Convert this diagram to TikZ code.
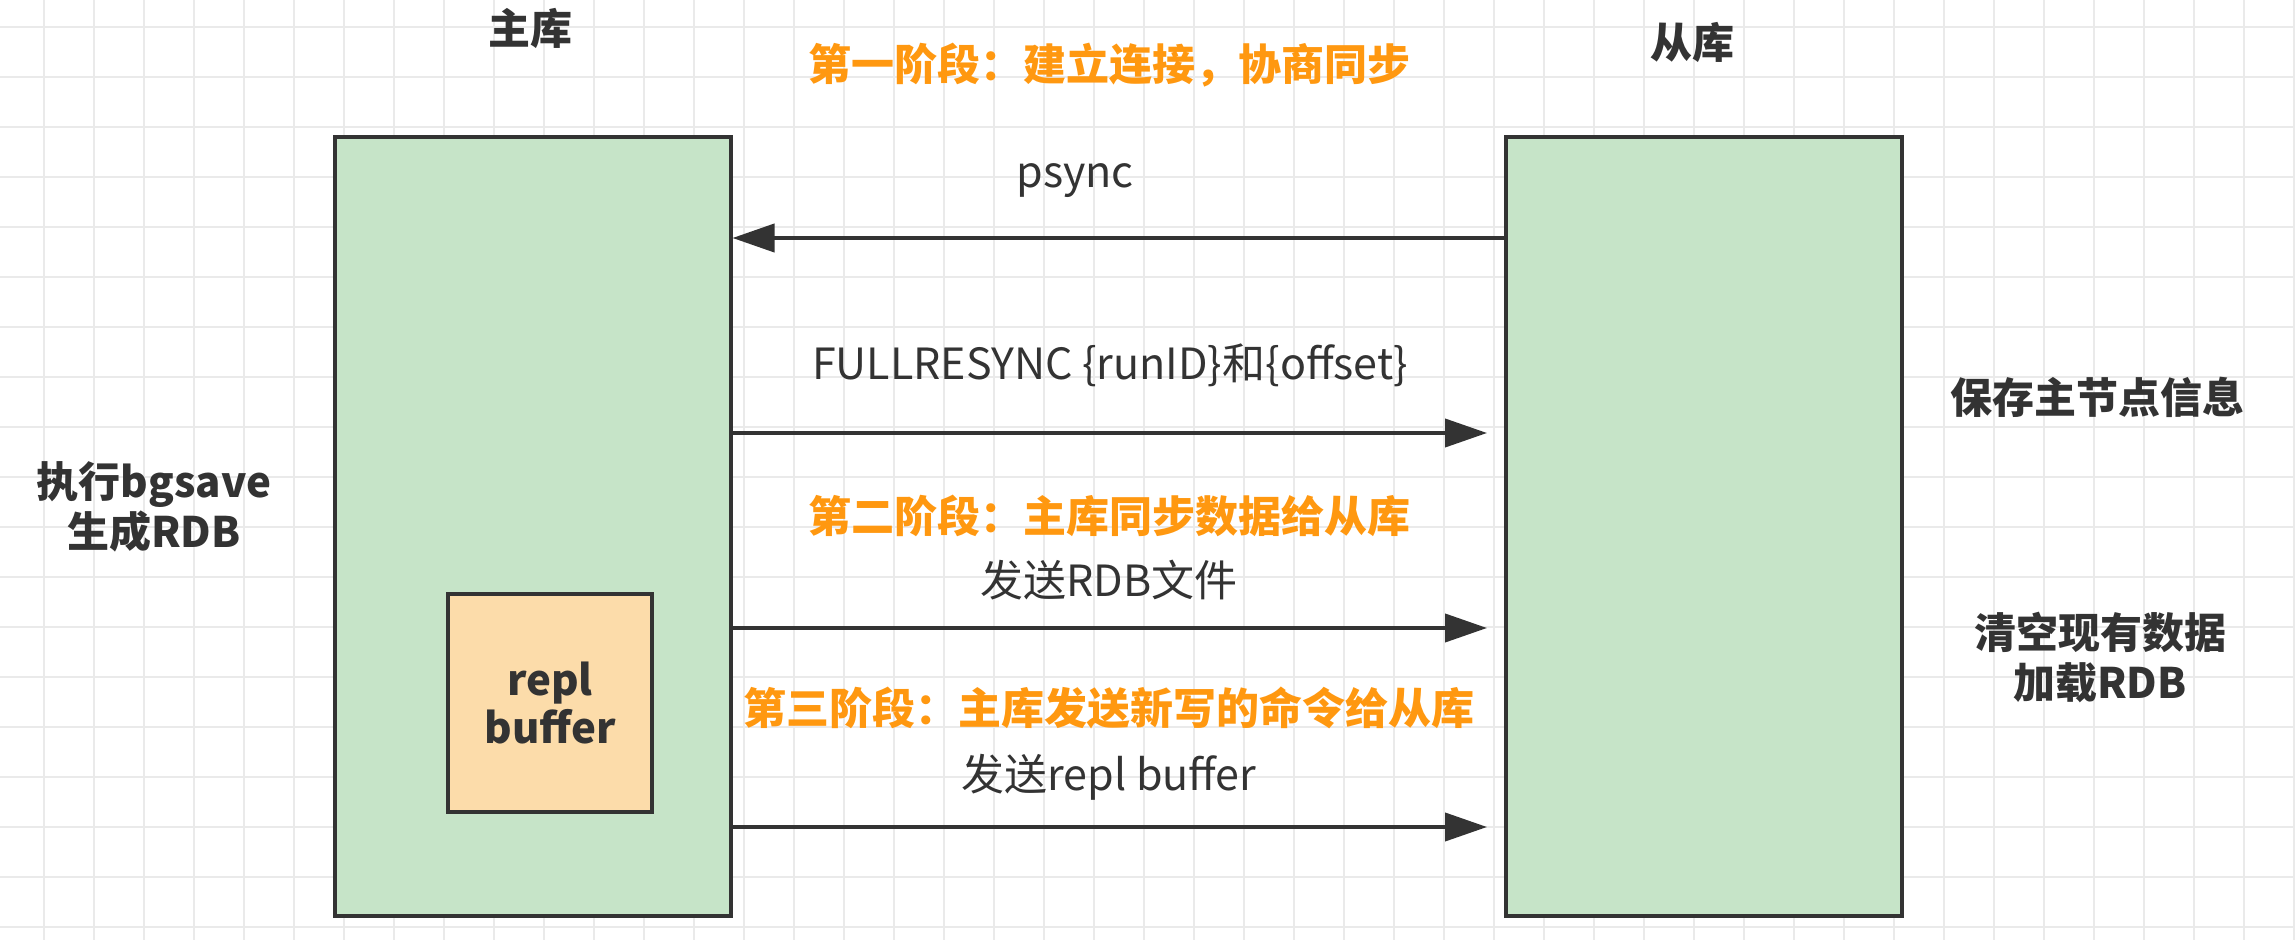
\documentclass[tikz,border=0pt]{standalone}
\usepackage{fontspec}
\setmainfont{Noto Sans CJK SC}
\usepackage{tikz}
\usetikzlibrary{arrows.meta}
\definecolor{boxgreen}{RGB}{198,228,200}
\definecolor{bufferorange}{RGB}{252,220,170}
\definecolor{stageorange}{RGB}{255,152,16}
\definecolor{ink}{RGB}{51,51,51}
\definecolor{gridgray}{RGB}{234,234,234}
\tikzset{
  gridline/.style={gridgray, line width=0.6pt},
  db/.style={draw=ink, line width=2pt, fill=boxgreen, inner sep=0pt,
    minimum width=198pt, minimum height=389pt},
  bufferbox/.style={draw=ink, line width=2pt, fill=bufferorange, inner sep=0pt,
    minimum width=102pt, minimum height=109pt, align=center, text=ink,
    font=\bfseries\fontsize{21pt}{24pt}\selectfont},
  head/.style={text=ink, align=center, inner sep=0pt,
    font=\bfseries\fontsize{21pt}{25pt}\selectfont},
  stage/.style={text=stageorange, inner sep=0pt,
    font=\bfseries\fontsize{21.5pt}{26pt}\selectfont},
  msglabel/.style={text=ink, inner sep=0pt,
    font=\fontsize{21.5pt}{24pt}\selectfont},
  flow/.style={draw=ink, line width=2pt, -{Triangle[length=21pt,width=14pt]}}
}

\begin{document}
\begin{tikzpicture}[x=0.5pt, y=-0.5pt]
    \useasboundingbox[fill=white] (0,0) rectangle (2295,940);
    % background grid
    \foreach \x in {44,94,...,2294}
        \draw[gridline] (\x,0) -- (\x,940);
    \foreach \y in {27,77,...,927}
        \draw[gridline] (0,\y) -- (2295,\y);

    \node[db] (master) at (532.5,526.5) {};
    \node[db] (slave) at (1704,526.5) {};
    \node[bufferbox] (buffer) at (550,703) {repl\\buffer};

    \node[head] (masterlabel) at (530,28) {主库};
    \node[head] (slavelabel) at (1692,42) {从库};
    \node[head] (bgsave) at (154,507) {执行bgsave\\生成RDB};
    \node[head] (saveinfo) at (2097,397) {保存主节点信息};
    \node[head] (loadrdb) at (2100,658) {清空现有数据\\加载RDB};

    \node[stage] (stage1) at (1109,65) {第一阶段：建立连接，协商同步};
    \node[stage] (stage2) at (1109,516) {第二阶段：主库同步数据给从库};
    \node[stage] (stage3) at (1109,708) {第三阶段：主库发送新写的命令给从库};

    \node[msglabel] (psync) at (1075,181) {psync};
    \node[msglabel] (fullresync) at (1110,365) {FULLRESYNC \{runID\}和\{offset\}};
    \node[msglabel] (sendrdb) at (1109,580) {发送RDB文件};
    \node[msglabel] (sendbuffer) at (1109,777) {发送repl buffer};

    \coordinate (row1) at (0,238);
    \coordinate (row2) at (0,433);
    \coordinate (row3) at (0,628);
    \coordinate (row4) at (0,827);
    \draw[flow] (slave.west |- row1) -- (master.east |- row1);
    \draw[flow, shorten >=8.5pt] (master.east |- row2) -- (slave.west |- row2);
    \draw[flow, shorten >=8.5pt] (master.east |- row3) -- (slave.west |- row3);
    \draw[flow, shorten >=8.5pt] (master.east |- row4) -- (slave.west |- row4);
\end{tikzpicture}
\end{document}
